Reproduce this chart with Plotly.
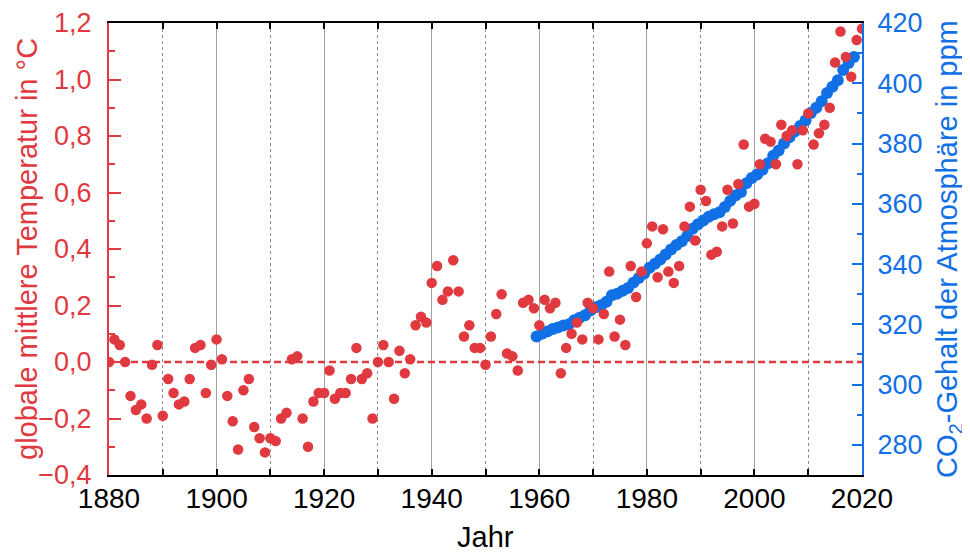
import plotly.graph_objects as go

temp_years = list(range(1880, 2021))
temp_values = [
    0.00, 0.08, 0.06, 0.00, -0.12, -0.17, -0.15, -0.20, -0.01, 0.06,
    -0.19, -0.06, -0.11, -0.15, -0.14, -0.06, 0.05, 0.06, -0.11, -0.01,
    0.08, 0.01, -0.12, -0.21, -0.31, -0.10, -0.06, -0.23, -0.27, -0.32,
    -0.27, -0.28, -0.20, -0.18, 0.01, 0.02, -0.20, -0.30, -0.14, -0.11,
    -0.11, -0.03, -0.13, -0.11, -0.11, -0.06, 0.05, -0.06, -0.04, -0.20,
    0.00, 0.06, 0.00, -0.13, 0.04, -0.04, 0.01, 0.13, 0.16, 0.14,
    0.28, 0.34, 0.22, 0.25, 0.36, 0.25, 0.09, 0.13, 0.05, 0.05,
    -0.01, 0.09, 0.17, 0.24, 0.03, 0.02, -0.03, 0.21, 0.22, 0.19,
    0.13, 0.22, 0.19, 0.21, -0.04, 0.05, 0.10, 0.14, 0.08, 0.21,
    0.19, 0.08, 0.17, 0.32, 0.09, 0.15, 0.06, 0.34, 0.23, 0.32,
    0.42, 0.48, 0.30, 0.47, 0.32, 0.28, 0.34, 0.48, 0.55, 0.43,
    0.61, 0.57, 0.38, 0.39, 0.48, 0.61, 0.49, 0.63, 0.77, 0.55,
    0.56, 0.70, 0.79, 0.78, 0.70, 0.84, 0.80, 0.82, 0.70, 0.82,
    0.88, 0.77, 0.81, 0.84, 0.90, 1.06, 1.17, 1.08, 1.01, 1.14,
    1.18,
]

co2_years = list(range(1959, 2019))
co2_values = [
    315.98, 316.91, 317.64, 318.45, 318.99, 319.62, 320.04, 321.37, 322.18, 323.05,
    324.62, 325.68, 326.32, 327.46, 329.68, 330.19, 331.13, 332.03, 333.84, 335.41,
    336.84, 338.76, 340.12, 341.48, 343.15, 344.85, 346.35, 347.61, 349.31, 351.69,
    353.20, 354.45, 355.70, 356.54, 357.21, 358.96, 360.97, 362.74, 363.88, 366.84,
    368.54, 369.71, 371.32, 373.45, 375.98, 377.70, 379.98, 382.09, 384.02, 385.83,
    387.64, 390.10, 391.85, 394.06, 396.74, 398.81, 401.01, 404.41, 406.76, 408.72,
]

x_ticks = list(range(1880, 2021, 20))
temp_ticks = [-0.4, -0.2, 0.0, 0.2, 0.4, 0.6, 0.8, 1.0, 1.2]
co2_ticks = [280, 300, 320, 340, 360, 380, 400, 420]

RED = "#e0393f"
BLUE = "#1270e6"
FONT = "Liberation Sans, Arial, sans-serif"

fig = go.Figure()

# CO2 on base axis (drawn below the temperature points)
fig.add_trace(go.Scatter(
    x=[y + 0.5 for y in co2_years], y=co2_values, mode="markers",
    marker=dict(color=BLUE, size=12, line=dict(width=0)),
    xaxis="x", yaxis="y", showlegend=False, hoverinfo="x+y",
))

# zero reference line for temperature
fig.add_trace(go.Scatter(
    x=[temp_years[0], temp_years[-1]], y=[0, 0], mode="lines",
    line=dict(color=RED, width=2.5, dash="7px,4px"),
    xaxis="x", yaxis="y2", showlegend=False, hoverinfo="skip",
))

fig.add_trace(go.Scatter(
    x=temp_years, y=temp_values, mode="markers",
    marker=dict(color=RED, size=10.5, line=dict(width=0)),
    xaxis="x", yaxis="y2", showlegend=False, hoverinfo="x+y",
))

# page has an 8px body margin: figure is 962x546, plot area at page (109..862, 23..475)
fig.update_layout(
    width=962, height=546,
    margin=dict(l=101, r=108, t=15, b=79, autoexpand=False),
    paper_bgcolor="white", plot_bgcolor="white",
    separators=",.",
    font=dict(family=FONT, size=27, color="black"),
    xaxis=dict(
        range=[1880, 2020], tickvals=x_ticks, ticktext=[str(v) for v in x_ticks],
        showline=True, linecolor="black", linewidth=2, mirror="ticks",
        ticks="inside", ticklen=6, tickwidth=1.5, tickcolor="black",
        tickfont=dict(size=28, color="black"), ticklabelstandoff=-3,
        showgrid=True, gridcolor="#a0a0a0", gridwidth=1,
        minor=dict(dtick=10, tick0=1880, ticks="inside", ticklen=6, tickwidth=1.5,
                   tickcolor="black", showgrid=True, gridcolor="#8c8c8c",
                   griddash="dot", gridwidth=1),
        zeroline=False,
    ),
    yaxis=dict(
        range=[270, 420], tickvals=co2_ticks, side="right",
        showline=True, linecolor=BLUE, linewidth=2,
        ticks="inside", ticklen=10, tickwidth=2, tickcolor=BLUE,
        tickfont=dict(size=27, color=BLUE), ticklabelstandoff=8,
        minor=dict(dtick=10, tick0=270, ticks="inside", ticklen=5, tickwidth=2, tickcolor=BLUE),
        showgrid=False, zeroline=False,
    ),
    yaxis2=dict(
        range=[-0.4, 1.2], tickvals=temp_ticks, tickformat=".1f", side="left",
        overlaying="y",
        showline=True, linecolor=RED, linewidth=2,
        ticks="inside", ticklen=12, tickwidth=2, tickcolor=RED,
        tickfont=dict(size=27, color=RED), ticklabelstandoff=10,
        minor=dict(dtick=0.1, tick0=-0.4, ticks="inside", ticklen=6, tickwidth=2, tickcolor=RED),
        showgrid=False, zeroline=False,
    ),
    annotations=[
        dict(text="Jahr", xref="paper", yref="paper", x=0.5, y=0, yshift=-62,
             xanchor="center", yanchor="middle", showarrow=False,
             font=dict(size=29, color="black")),
        dict(text="globale mittlere Temperatur in °C", xref="paper", yref="paper",
             x=0, y=0.5, xshift=-82, xanchor="center", yanchor="middle",
             textangle=-90, showarrow=False, font=dict(size=29, color=RED)),
        dict(text="CO<sub>2</sub>-Gehalt der Atmosphäre in ppm", xref="paper", yref="paper",
             x=1, y=0.5, xshift=87, xanchor="center", yanchor="middle",
             textangle=-90, showarrow=False, font=dict(size=29, color=BLUE)),
    ],
)

fig.write_html("out.html")
